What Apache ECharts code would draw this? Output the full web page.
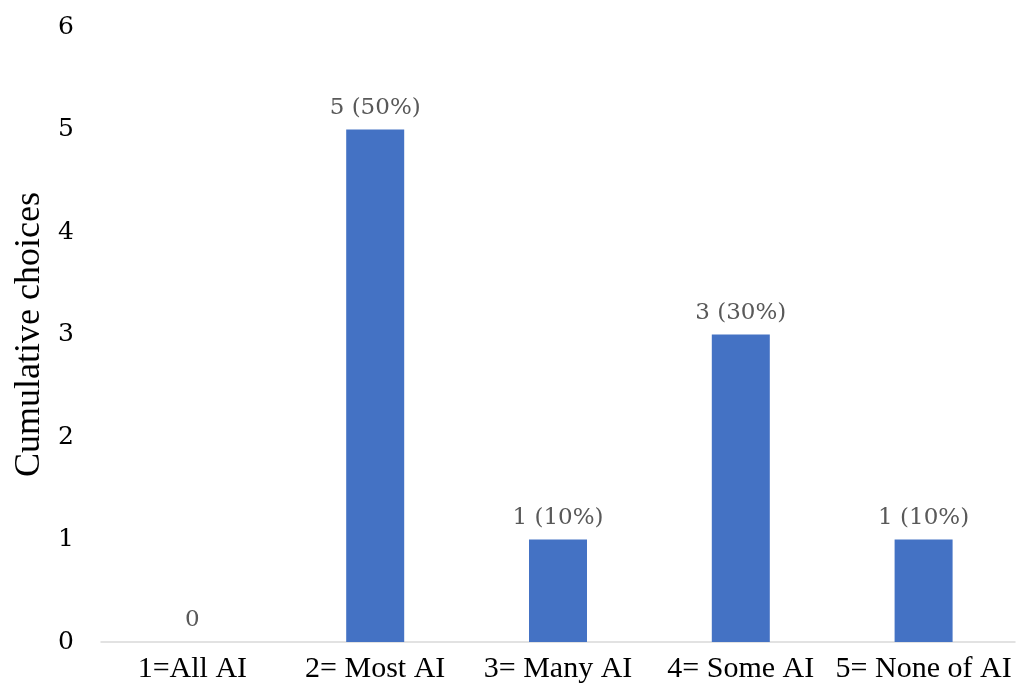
<!DOCTYPE html>
<html>
<head>
<meta charset="utf-8">
<script src="https://cdn.jsdelivr.net/npm/echarts@6/dist/echarts.min.js"></script>
<style>
  html, body { margin: 0; padding: 0; background: #ffffff; }
  #chart { width: 1020px; height: 693px; }
</style>
</head>
<body>
<div id="chart"></div>
<script>
// Survey answers: how much of the work was done with AI
const categories = ['1=All AI', '2= Most AI', '3= Many AI', '4= Some AI', '5= None of AI'];
const choices = [0, 5, 1, 3, 1];
const yTicks = [0, 1, 2, 3, 4, 5, 6];

const total = choices.reduce((a, b) => a + b, 0);

const chart = echarts.init(document.getElementById('chart'));
chart.setOption({
  animation: false,
  backgroundColor: '#ffffff',
  grid: { left: 101, right: 5, top: 27, bottom: 51 },
  xAxis: {
    type: 'category',
    data: categories,
    axisLine: { show: true, lineStyle: { color: '#d9d9d9', width: 1.5 } },
    axisTick: { show: false },
    axisLabel: {
      color: '#000000',
      fontFamily: 'Liberation Serif',
      fontSize: 30,
      margin: 12,
      interval: 0
    }
  },
  yAxis: {
    type: 'value',
    min: yTicks[0],
    max: yTicks[yTicks.length - 1],
    interval: 1,
    name: 'Cumulative choices',
    nameLocation: 'middle',
    nameGap: 50,
    nameTextStyle: { color: '#000000', fontFamily: 'Liberation Serif', fontSize: 36 },
    axisLine: { show: false },
    axisTick: { show: false },
    splitLine: { show: false },
    axisLabel: {
      color: '#000000',
      fontFamily: 'DejaVu Serif',
      fontSize: 25,
      margin: 27
    }
  },
  series: [{
    type: 'bar',
    data: choices,
    barWidth: 58,
    itemStyle: { color: '#4472c4' },
    label: {
      show: true,
      position: 'top',
      distance: 10,
      color: '#595959',
      fontFamily: 'DejaVu Serif',
      fontSize: 23,
      formatter: p => p.value === 0 ? '0' : p.value + ' (' + Math.round(p.value / total * 100) + '%)'
    }
  }]
});
</script>
</body>
</html>
